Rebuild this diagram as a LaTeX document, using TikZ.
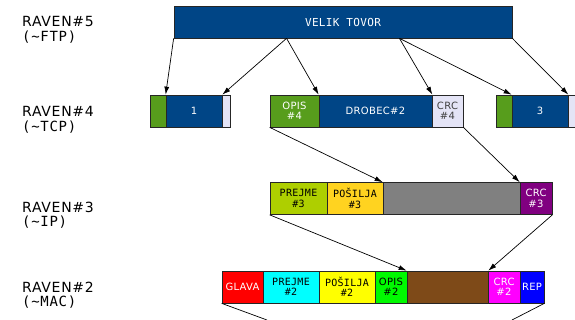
\documentclass[tikz,border=0pt]{standalone}
\usepackage{fontspec}
\usetikzlibrary{arrows.meta,calc}
\setmainfont{DejaVu Sans}
\newfontfamily\cellsans{DejaVu Sans}[LetterSpace=3]
\newfontfamily\cellmono{DejaVu Sans Mono}[LetterSpace=3]
\newfontfamily\layersans{DejaVu Sans}[LetterSpace=5]
\newfontfamily\layermono{DejaVu Sans Mono}[LetterSpace=5]

\definecolor{tcpblue}{RGB}{0,69,134}
\definecolor{hdrgreen}{RGB}{87,157,28}
\definecolor{crclav}{RGB}{228,228,246}
\definecolor{prejmethree}{RGB}{174,207,0}
\definecolor{posiljathree}{RGB}{255,211,32}
\definecolor{ipgray}{RGB}{128,128,128}
\definecolor{crcthree}{RGB}{128,0,128}
\definecolor{glavared}{RGB}{255,0,0}
\definecolor{prejmetwo}{RGB}{0,255,255}
\definecolor{posiljatwo}{RGB}{255,255,0}
\definecolor{opistwo}{RGB}{0,250,0}
\definecolor{macbrown}{RGB}{126,74,24}
\definecolor{crctwo}{RGB}{255,0,255}
\definecolor{repblue}{RGB}{0,0,255}

\tikzset{
  cell/.style={draw=black!85, line width=0.7pt, minimum height=32pt, inner sep=0pt,
    text=white, align=center, font=\cellsans\fontsize{10}{10.5}\selectfont},
  monocell/.style={cell, text=black, font=\cellmono\fontsize{10}{10.5}\selectfont},
  layer/.style={anchor=north west, inner sep=0pt, align=left,
    font=\layersans\fontsize{14}{14.5}\selectfont},
  link/.style={->, line width=0.7pt},
  >={Latex[length=8pt,width=5pt]}
}

\begin{document}
\begin{tikzpicture}[x=1pt,y=-1pt]
  \fill[white] (0,0) rectangle (575,320);
  \useasboundingbox (0,0) rectangle (575,320);

  % layer names
  \node[layer] (l5) at (22,16.5) {RAVEN\#5\\{\layermono(\textasciitilde FTP)}};
  \node[layer] (l4) at (22,106.5) {RAVEN\#4\\{\layermono(\textasciitilde TCP)}};
  \node[layer] (l3) at (22,201.5) {RAVEN\#3\\{\layermono(\textasciitilde IP)}};
  \node[layer] (l2) at (22,281.5) {RAVEN\#2\\{\layermono(\textasciitilde MAC)}};

  % ftp
  \node[monocell, text=white, fill=tcpblue, minimum width=338pt,
    font=\cellmono\fontsize{11}{11.5}\selectfont] (tovor) at (343,22) {VELIK TOVOR};

  % tcp
  \node[cell, fill=hdrgreen, minimum width=16pt] (h1) at (158,111) {};
  \node[cell, fill=tcpblue, minimum width=56pt] (d1) at (194,111) {1};
  \node[cell, fill=crclav, minimum width=8pt] (c1) at (226,111) {};
  \node[cell, fill=hdrgreen, minimum width=49pt] (h2) at (294.5,111) {OPIS\\\#4};
  \node[cell, fill=tcpblue, minimum width=113pt] (d2) at (375.5,111) {DROBEC\#2};
  \node[cell, fill=crclav, text=black!75, minimum width=31pt] (c2) at (447.5,111) {CRC\\\#4};
  \node[cell, fill=hdrgreen, minimum width=16pt] (h3) at (504,111) {};
  \node[cell, fill=tcpblue, minimum width=56pt] (d3) at (540,111) {3};
  \node[cell, fill=crclav, minimum width=8pt] (c3) at (572,111) {};

  % ip
  \node[monocell, fill=prejmethree, minimum width=57pt] (p3) at (298.5,198.5) {PREJME\\\#3};
  \node[monocell, fill=posiljathree, minimum width=56pt] (s3) at (355,198.5) {POŠILJA\\\#3};
  \node[cell, fill=ipgray, minimum width=137pt] (g3) at (451.5,198.5) {};
  \node[cell, fill=crcthree, minimum width=32pt] (r3) at (536,198.5) {CRC\\\#3};

  % mac
  \node[cell, fill=glavared, minimum width=41pt] (gl) at (242.5,287) {GLAVA};
  \node[monocell, fill=prejmetwo, minimum width=56pt] (p2) at (291,287) {PREJME\\\#2};
  \node[monocell, fill=posiljatwo, minimum width=56pt] (s2) at (347,287) {POŠILJA\\\#2};
  \node[cell, text=black, fill=opistwo, minimum width=32pt] (o2) at (391,287) {OPIS\\\#2};
  \node[cell, fill=macbrown, minimum width=81pt] (b2) at (447.5,287) {};
  \node[cell, fill=crctwo, minimum width=32pt] (r2) at (504,287) {CRC\\\#2};
  \node[cell, fill=repblue, minimum width=24pt] (rep) at (532,287) {REP};

  \coordinate (t1) at ($(tovor.south west)!1/3!(tovor.south east)$);
  \coordinate (t2) at ($(tovor.south west)!2/3!(tovor.south east)$);
  \coordinate (gout) at (267,320);
  \coordinate (repout) at (512,320);

  \draw[link] (tovor.south west) -- (d1.north west);
  \draw[link] (t1) -- (d1.north east);
  \draw[link] (t1) -- (d2.north west);
  \draw[link] (t2) -- (d2.north east);
  \draw[link] (t2) -- (d3.north west);
  \draw[link] (tovor.south east) -- (d3.north east);
  \draw[link] (h2.south west) -- (g3.north west);
  \draw[link] (c2.south east) -- (r3.north west);
  \draw[link] (p3.south west) -- (b2.north west);
  \draw[link] (r3.south east) -- (b2.north east);
  \draw[line width=0.7pt] (gl.south west) -- (gout);
  \draw[line width=0.7pt] (rep.south east) -- (repout);
\end{tikzpicture}
\end{document}
